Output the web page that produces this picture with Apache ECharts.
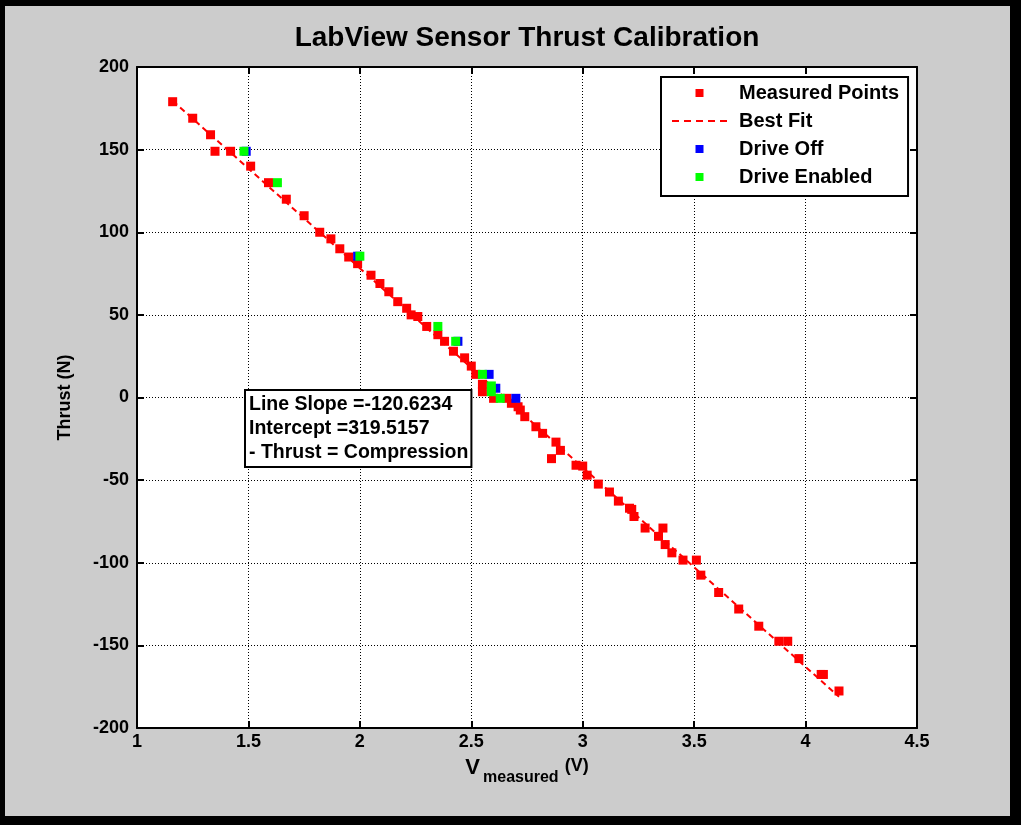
<!DOCTYPE html>
<html>
<head>
<meta charset="utf-8">
<script src="https://cdn.jsdelivr.net/npm/echarts@6/dist/echarts.min.js"></script>
<style>
  html, body { margin: 0; padding: 0; background: #000; width: 1021px; height: 825px; overflow: hidden; }
  #frame { position: absolute; left: 5px; top: 6px; width: 1005px; height: 810px; background: #cccccc; }
  #chart { position: absolute; left: 0; top: 0; width: 1021px; height: 825px; }
</style>
</head>
<body>
<div id="frame"></div>
<div id="chart"></div>
<script>
// Calibration samples: sensor voltage (V) vs applied thrust (N)
const measuredV = [1.16, 1.25, 1.33, 1.35, 1.42, 1.51, 1.59, 1.67, 1.75, 1.82,
  1.87, 1.91, 1.95, 1.99, 2.05, 2.09, 2.13, 2.17, 2.21, 2.23,
  2.26, 2.30, 2.35, 2.38, 2.42, 2.47, 2.50, 2.52, 2.55, 2.55,
  2.60, 2.66, 2.68, 2.71, 2.72, 2.74, 2.79, 2.82, 2.88, 2.90,
  2.86, 2.97, 3.00, 3.02, 3.07, 3.12, 3.16, 3.21, 3.22, 3.23,
  3.28, 3.36, 3.34, 3.37, 3.40, 3.45, 3.51, 3.53, 3.61, 3.70,
  3.79, 3.88, 3.92, 3.97, 4.07, 4.08, 4.15];
const measuredThrust = [179, 169, 159, 149, 149, 140, 130, 120, 110, 100,
  96, 90, 85, 81, 74, 69, 64, 58, 54, 50,
  49, 43, 38, 34, 28, 24, 19, 14, 8, 3.5,
  -0.5, -0.5, -3.5, -5.6, -7.6, -11.6, -17.7, -21.7, -27, -32,
  -37, -41, -41.5, -47, -52.4, -57.2, -62.7, -67, -67.7, -72,
  -79, -79, -84, -89, -94, -98.4, -98.4, -107.5, -118, -128,
  -138.4, -147.5, -147.5, -158, -167.6, -167.6, -177.6];

// Points taken with the drive switched off
const driveOffV = [1.49, 1.99, 2.44, 2.58, 2.61, 2.70];
const driveOffThrust = [149, 85.5, 34, 14, 5.6, -0.5];

// Points taken with the drive enabled
const driveEnabledV = [1.48, 1.63, 2.00, 2.35, 2.43, 2.55, 2.59, 2.59, 2.63];
const driveEnabledThrust = [149, 130, 85.5, 43, 34, 14, 7, 3.5, -0.5];

// Least-squares fit
const fitSlope = -120.6234;
const fitIntercept = 319.5157;
const fitRange = [1.16, 4.15];

const seriesNames = ['Measured Points', 'Best Fit', 'Drive Off', 'Drive Enabled'];
const noteLines = [
  'Line Slope =' + fitSlope.toFixed(4),
  'Intercept =' + fitIntercept.toFixed(4),
  '- Thrust = Compression'
];

const FONT = '"Liberation Sans", Arial, Helvetica, sans-serif';
const pairs = (xs, ys) => xs.map((x, i) => [x, ys[i]]);
const fitLine = fitRange.map(x => [x, fitSlope * x + fitIntercept]);
const squareIcon = 'path://M0,0L10,0L10,10L0,10Z';
// five short dashes, used as the legend sample of the fitted line
const dashIcon = 'path://M0,0h7v2h-7z M12,0h7v2h-7z M24,0h7v2h-7z M36,0h7v2h-7z M48,0h7v2h-7z';

const chart = echarts.init(document.getElementById('chart'), null, { renderer: 'canvas' });

const axisLine = { show: true, onZero: false, lineStyle: { color: '#000', width: 2 } };
const axisTick = { show: true, inside: true, length: 7, lineStyle: { color: '#000', width: 2 } };
const labelStyle = { color: '#000', fontSize: 18, fontWeight: 'bold', fontFamily: FONT };
const dotted = { show: true, lineStyle: { color: '#000', width: 1, type: [1, 2] } };
const txt = (size, lh, va, extra) => Object.assign({
  fontSize: size, lineHeight: lh, fontWeight: 'bold', fontFamily: FONT, color: '#000', verticalAlign: va
}, extra || {});

chart.setOption({
  backgroundColor: 'transparent',
  animation: false,
  grid: {
    left: 137, top: 67, right: 104, bottom: 97,
    show: true, backgroundColor: '#fff', borderWidth: 0
  },
  xAxis: [
    {
      type: 'value', min: 1, max: 4.5, interval: 0.5, position: 'bottom',
      axisLine, axisTick,
      axisLabel: Object.assign({ margin: 5, showMinLabel: true, showMaxLabel: true }, labelStyle),
      splitLine: dotted,
      name: '{v|V}{m|measured}{u|(V)}',
      nameLocation: 'middle', nameGap: 29,
      nameTextStyle: {
        color: '#000', fontFamily: FONT, fontWeight: 'bold',
        rich: {
          v: txt(22, 21, 'top'),
          m: txt(16, 29, 'bottom', { padding: [0, 6, 0, 3] }),
          u: txt(18, 17, 'top')
        }
      }
    },
    {
      type: 'value', min: 1, max: 4.5, interval: 0.5, position: 'top',
      axisLine, axisTick, axisLabel: { show: false }, splitLine: { show: false }
    }
  ],
  yAxis: [
    {
      type: 'value', min: -200, max: 200, interval: 50, position: 'left',
      axisLine, axisTick,
      axisLabel: Object.assign({ margin: 8, showMinLabel: true, showMaxLabel: true }, labelStyle),
      splitLine: dotted,
      name: 'Thrust (N)', nameLocation: 'middle', nameGap: 63,
      nameTextStyle: { color: '#000', fontSize: 18, fontWeight: 'bold', fontFamily: FONT }
    },
    {
      type: 'value', min: -200, max: 200, interval: 50, position: 'right',
      axisLine, axisTick, axisLabel: { show: false }, splitLine: { show: false }
    }
  ],
  legend: {
    orient: 'vertical', left: 661, top: 77,
    padding: [6, 9, 9, 11], itemGap: 8,
    itemWidth: 55, itemHeight: 8,
    backgroundColor: '#fff', borderColor: '#000', borderWidth: 2,
    textStyle: { color: '#000', fontSize: 20, fontWeight: 'bold', fontFamily: FONT, lineHeight: 20, padding: [0, 0, 0, 7] },
    data: [
      { name: seriesNames[0], icon: squareIcon },
      { name: seriesNames[1], icon: dashIcon },
      { name: seriesNames[2], icon: squareIcon },
      { name: seriesNames[3], icon: squareIcon }
    ]
  },
  graphic: [
    {
      type: 'text', x: 527, y: 38, z: 10,
      style: {
        text: 'LabView Sensor Thrust Calibration',
        fontSize: 28, fontWeight: 'bold', fontFamily: FONT, fill: '#000',
        align: 'center', verticalAlign: 'middle'
      }
    },
    {
      type: 'text', left: 244, top: 389, z: 10,
      style: {
        text: noteLines.join('\n'),
        fontSize: 19.5, fontWeight: 'bold', fontFamily: FONT, fill: '#000',
        lineHeight: 24, backgroundColor: '#fff', borderColor: '#000', borderWidth: 2,
        padding: [2, 2, 1, 3]
      }
    }
  ],
  series: [
    {
      name: seriesNames[0], type: 'scatter', symbol: 'rect', symbolSize: 9,
      itemStyle: { color: '#ff0000', opacity: 1 }, data: pairs(measuredV, measuredThrust), z: 2
    },
    {
      name: seriesNames[1], type: 'line', symbol: 'none', showSymbol: false,
      lineStyle: { color: '#ff0000', width: 2, type: [6, 4] },
      itemStyle: { color: '#ff0000' }, data: fitLine, z: 3
    },
    {
      name: seriesNames[2], type: 'scatter', symbol: 'rect', symbolSize: 9,
      itemStyle: { color: '#0000ff', opacity: 1 }, data: pairs(driveOffV, driveOffThrust), z: 4
    },
    {
      name: seriesNames[3], type: 'scatter', symbol: 'rect', symbolSize: 9,
      itemStyle: { color: '#00ff00', opacity: 1 }, data: pairs(driveEnabledV, driveEnabledThrust), z: 5
    }
  ]
});
</script>
</body>
</html>
